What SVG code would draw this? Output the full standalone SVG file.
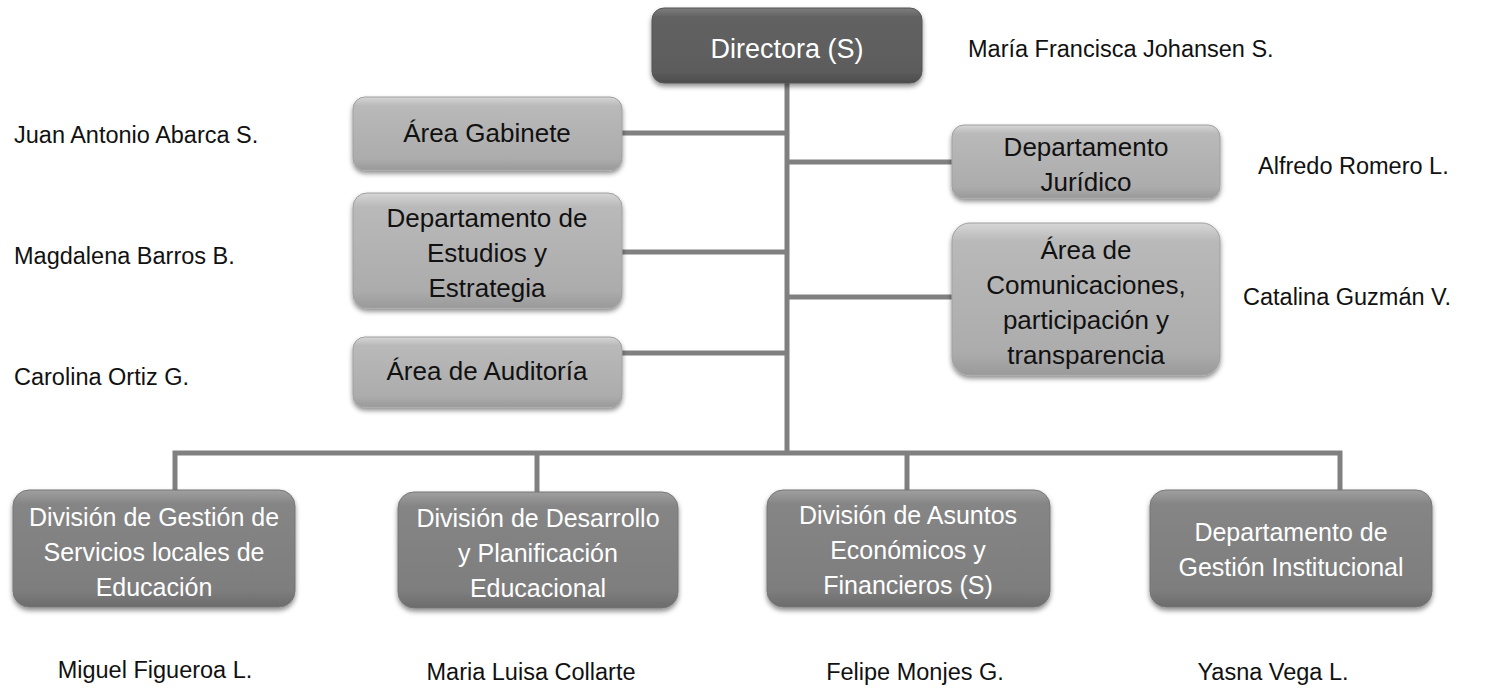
<svg xmlns="http://www.w3.org/2000/svg" width="1487" height="694" viewBox="0 0 1487 694">
<defs>
<linearGradient id="gLight" x1="0" y1="0" x2="0" y2="1">
<stop offset="0" stop-color="#d6d6d6"/>
<stop offset="0.12" stop-color="#b9b9b9"/>
<stop offset="0.85" stop-color="#acacac"/>
<stop offset="1" stop-color="#9a9a9a"/>
</linearGradient>
<linearGradient id="gMid" x1="0" y1="0" x2="0" y2="1">
<stop offset="0" stop-color="#a0a0a0"/>
<stop offset="0.12" stop-color="#858585"/>
<stop offset="0.85" stop-color="#7e7e7e"/>
<stop offset="1" stop-color="#6c6c6c"/>
</linearGradient>
<linearGradient id="gDark" x1="0" y1="0" x2="0" y2="1">
<stop offset="0" stop-color="#7e7e7e"/>
<stop offset="0.12" stop-color="#626262"/>
<stop offset="0.85" stop-color="#5c5c5c"/>
<stop offset="1" stop-color="#4c4c4c"/>
</linearGradient>
<filter id="sh" x="-10%" y="-10%" width="120%" height="130%">
<feDropShadow dx="0" dy="3" stdDeviation="2.5" flood-color="#000" flood-opacity="0.45"/>
</filter>
</defs>
<style>
.box{filter:url(#sh);}
.light{fill:url(#gLight);stroke:#a0a0a0;stroke-width:1;}
.mid{fill:url(#gMid);stroke:#777;stroke-width:1;}
.dark{fill:url(#gDark);stroke:#555;stroke-width:1;}
.t{font-family:"Liberation Sans",Arial,sans-serif;font-size:25px;text-anchor:middle;}
.tb{fill:#111;font-size:26px;}
.tw{fill:#fff;}
.name{font-family:"Liberation Sans",Arial,sans-serif;font-size:23.5px;fill:#111;}
.nm{text-anchor:middle;}
.con{stroke:#808080;stroke-width:5;fill:none;}
</style>

<g id="connectors">
<line class="con" x1="787" y1="83" x2="787" y2="455"/>
<line class="con" x1="622" y1="133" x2="787" y2="133"/>
<line class="con" x1="622" y1="252" x2="787" y2="252"/>
<line class="con" x1="622" y1="353" x2="787" y2="353"/>
<line class="con" x1="787" y1="162" x2="952" y2="162"/>
<line class="con" x1="787" y1="297" x2="952" y2="297"/>
<polyline class="con" points="175,490 175,453 1340,453 1340,490"/>
<line class="con" x1="537" y1="453" x2="537" y2="492"/>
<line class="con" x1="907" y1="453" x2="907" y2="490"/>
</g>

<g id="directora">
<rect class="box dark" x="652" y="8" width="270" height="75" rx="12"/>
<text class="t tw" x="787" y="58" style="font-size:27px">Directora (S)</text>
</g>
<text class="name" x="968" y="57">María Francisca Johansen S.</text>

<g id="area-gabinete">
<rect class="box light" x="353" y="97" width="269" height="73" rx="12"/>
<text class="t tb" x="487" y="142">Área Gabinete</text>
</g>
<text class="name" x="14" y="143">Juan Antonio Abarca S.</text>

<g id="depto-estudios">
<rect class="box light" x="353" y="193" width="269" height="115" rx="14"/>
<text class="t tb" x="487" y="227">Departamento de</text>
<text class="t tb" x="487" y="262">Estudios y</text>
<text class="t tb" x="487" y="297">Estrategia</text>
</g>
<text class="name" x="14" y="264">Magdalena Barros B.</text>

<g id="area-auditoria">
<rect class="box light" x="353" y="337" width="269" height="70" rx="12"/>
<text class="t tb" x="487" y="380">Área de Auditoría</text>
</g>
<text class="name" x="14" y="385">Carolina Ortiz G.</text>

<g id="depto-juridico">
<rect class="box light" x="952" y="125" width="268" height="73" rx="12"/>
<text class="t tb" x="1086" y="156">Departamento</text>
<text class="t tb" x="1086" y="191">Jurídico</text>
</g>
<text class="name" x="1258" y="174">Alfredo Romero L.</text>

<g id="area-comunicaciones">
<rect class="box light" x="952" y="223" width="268" height="152" rx="18"/>
<text class="t tb" x="1086" y="259">Área de</text>
<text class="t tb" x="1086" y="294">Comunicaciones,</text>
<text class="t tb" x="1086" y="329">participación y</text>
<text class="t tb" x="1086" y="364">transparencia</text>
</g>
<text class="name" x="1243" y="305">Catalina Guzmán V.</text>

<g id="div-gestion">
<rect class="box mid" x="13" y="490" width="282" height="117" rx="16"/>
<text class="t tw" x="154" y="526">División de Gestión de</text>
<text class="t tw" x="154" y="561">Servicios locales de</text>
<text class="t tw" x="154" y="596">Educación</text>
</g>
<text class="name nm" x="155" y="678">Miguel Figueroa L.</text>

<g id="div-desarrollo">
<rect class="box mid" x="398" y="492" width="280" height="116" rx="16"/>
<text class="t tw" x="538" y="527">División de Desarrollo</text>
<text class="t tw" x="538" y="562">y Planificación</text>
<text class="t tw" x="538" y="597">Educacional</text>
</g>
<text class="name nm" x="531" y="680">Maria Luisa Collarte</text>

<g id="div-asuntos">
<rect class="box mid" x="767" y="490" width="283" height="117" rx="16"/>
<text class="t tw" x="908" y="524">División de Asuntos</text>
<text class="t tw" x="908" y="559">Económicos y</text>
<text class="t tw" x="908" y="594">Financieros (S)</text>
</g>
<text class="name nm" x="915" y="680">Felipe Monjes G.</text>

<g id="depto-gestion-inst">
<rect class="box mid" x="1150" y="490" width="282" height="117" rx="16"/>
<text class="t tw" x="1291" y="541">Departamento de</text>
<text class="t tw" x="1291" y="576">Gestión Institucional</text>
</g>
<text class="name nm" x="1273" y="680">Yasna Vega L.</text>
</svg>
